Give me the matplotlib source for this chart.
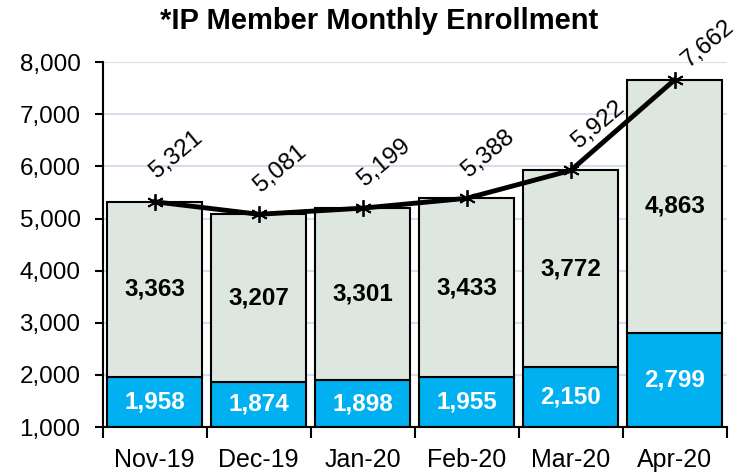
import numpy as np
import matplotlib
matplotlib.use("Agg")
import matplotlib.pyplot as plt
from matplotlib.ticker import FuncFormatter, FixedLocator

plt.rcParams['font.family'] = ['Liberation Sans', 'DejaVu Sans']

months = ["Nov-19", "Dec-19", "Jan-20", "Feb-20", "Mar-20", "Apr-20"]
lower = [1958, 1874, 1898, 1955, 2150, 2799]
upper = [3363, 3207, 3301, 3433, 3772, 4863]
totals = [5321, 5081, 5199, 5388, 5922, 7662]

# label offsets in pixels (dx, dy) from the line markers
offsets = [(22, 47), (22, 46), (22, 46), (22, 45), (28, 46), (33, 36)]

blue = "#00B0F0"
grey = "#DDE6DF"
base = 1000

fig = plt.figure(figsize=(7.5, 4.74), dpi=100)
ax = fig.add_axes([0.137, 0.099, 0.832, 0.770])

x = np.arange(len(months))
w = 0.915
low_h = [v - base for v in lower]
ax.bar(x, low_h, w, bottom=base, color=blue, edgecolor="black", linewidth=1.5, zorder=2)
ax.bar(x, upper, w, bottom=lower, color=grey, edgecolor="black", linewidth=1.5, zorder=2)

for i in range(len(months)):
    ax.text(x[i], base + (lower[i] - base) / 2, "{:,}".format(lower[i]), ha="center", va="center",
            color="white", fontsize=17.5, fontweight="bold", zorder=4)
    ax.text(x[i], lower[i] + upper[i] / 2, "{:,}".format(upper[i]), ha="center", va="center",
            color="black", fontsize=17.5, fontweight="bold", zorder=4)

ax.plot(x, totals, color="black", linewidth=3.5, marker=(6, 2, 0), markersize=12,
        markeredgewidth=1.3, markeredgecolor="black", zorder=5, clip_on=False)

for i in range(len(months)):
    dx, dy = offsets[i]
    ax.annotate("{:,}".format(totals[i]), (x[i], totals[i]), xytext=(dx * 0.72, dy * 0.72),
                textcoords="offset points", ha="center", va="center", rotation=40,
                fontsize=17.5, zorder=6, annotation_clip=False)

ax.set_xlim(-0.5, len(months) - 0.5)
ax.set_ylim(1000, 8000)
ax.set_yticks(range(1000, 8001, 1000))
ax.yaxis.set_major_formatter(FuncFormatter(lambda v, p: "{:,}".format(int(v))))
ax.set_xticks(x)
ax.set_xticklabels(months)
ax.xaxis.set_minor_locator(FixedLocator(np.arange(-0.5, len(months), 1.0)))
ax.tick_params(axis="x", which="major", length=0, labelsize=18, pad=15)
ax.tick_params(axis="x", which="minor", length=8, width=1.5, direction="out")
ax.tick_params(axis="y", length=6, width=1.5, labelsize=17.5, pad=10)

ax.grid(axis="y", color="#D9DCEA", linewidth=1.5, zorder=0)
ax.set_axisbelow(True)
for s in ["top", "right"]:
    ax.spines[s].set_visible(False)
for s in ["left", "bottom"]:
    ax.spines[s].set_linewidth(1.5)

fig.text(0.505, 0.955, "*IP Member Monthly Enrollment", ha="center", va="center",
         fontsize=21, fontweight="bold")

fig.savefig("out.png", dpi=100)
